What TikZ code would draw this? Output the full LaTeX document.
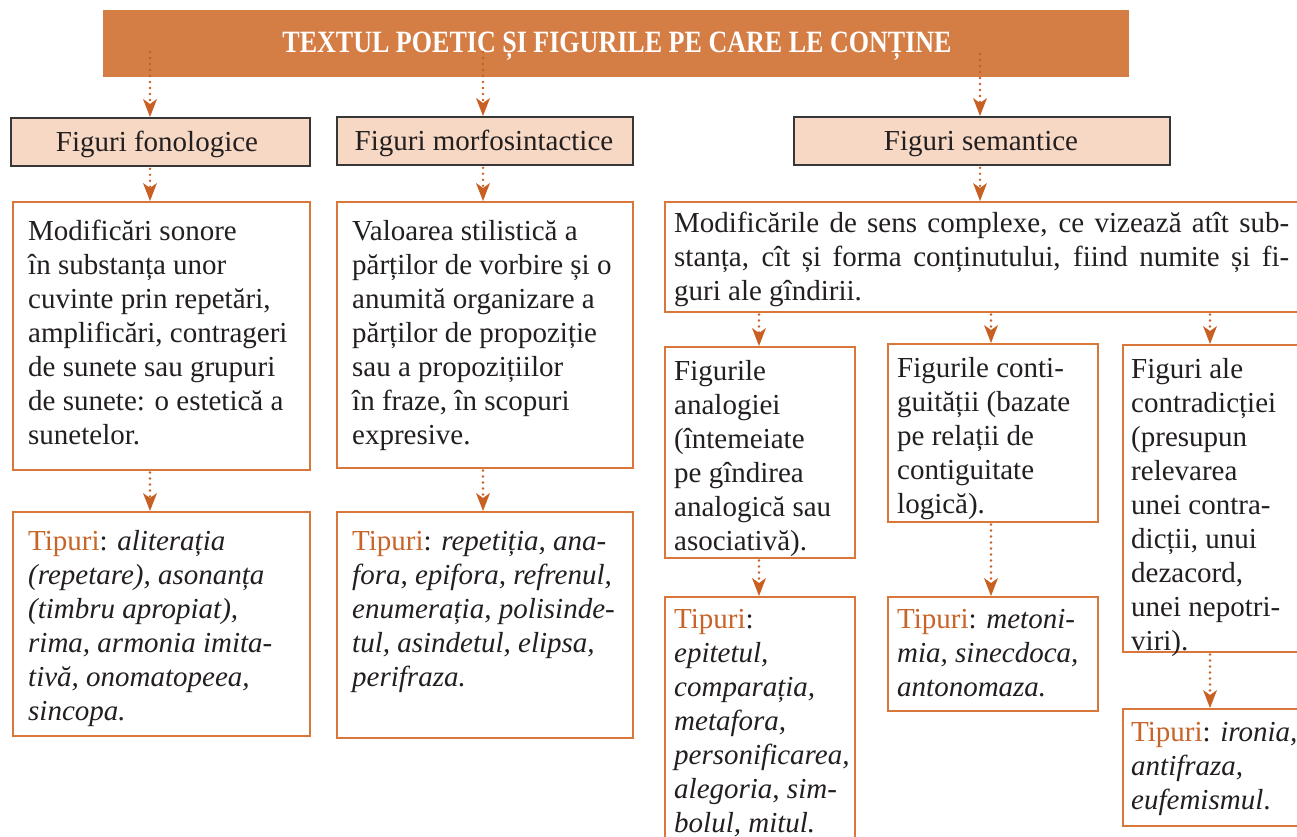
\documentclass[tikz,border=0pt]{standalone}
\usepackage{fontspec}
\usepackage{graphicx}
\setmainfont{Liberation Serif}
\usetikzlibrary{arrows.meta}
\definecolor{ttlfill}{RGB}{212,125,68}
\definecolor{peach}{RGB}{246,216,196}
\definecolor{lvlborder}{RGB}{55,55,55}
\definecolor{oborder}{RGB}{217,118,58}
\definecolor{arrcol}{RGB}{200,95,35}
\definecolor{tipcol}{RGB}{200,100,40}
\definecolor{ink}{RGB}{35,31,32}
\newcommand{\tip}{{\color{tipcol}Tipuri}:}
\newcommand{\bodytext}[1]{\parbox[t]{420pt}{\raggedright\fontsize{29}{34}\selectfont\leavevmode #1}}
\begin{document}
\begin{tikzpicture}[x=1pt,y=-1pt,
  ttl/.style={fill=ttlfill,draw=none,inner sep=0pt},
  lvl/.style={fill=peach,draw=lvlborder,line width=1.8pt,inner sep=0pt,text=ink,font=\fontsize{29}{34}\selectfont},
  obox/.style={draw=oborder,line width=1.5pt,fill=white,inner sep=0pt},
  txt/.style={inner sep=0pt,text=ink,anchor=base west},
  arr/.style={draw=arrcol,line width=2.6pt,line cap=round,dash pattern=on 0pt off 6pt,
    -{Stealth[length=18pt,width=14pt,inset=5pt,line cap=butt,line width=0pt,fill=arrcol]}, shorten <=2pt}
]
\clip (0,0) rectangle (1297,837);
\fill[white] (0,0) rectangle (1297,837);

% x positions of connectors
\coordinate (xa) at (150,0);
\coordinate (xb) at (483,0);
\coordinate (xc) at (980,0);
\coordinate (xd) at (759,0);
\coordinate (xe) at (991,0);
\coordinate (xf) at (1210,0);

% title
\node[ttl,anchor=north west,minimum width=1026pt,minimum height=67pt] (title) at (103,10) {};
\node[inner sep=0pt,text=white] (titletext) at (617,46)
  {\scalebox{0.84}[1]{\bfseries\fontsize{31}{31}\selectfont TEXTUL POETIC ȘI FIGURILE PE CARE LE CONȚINE}};

% level 1
\node[lvl,anchor=north west,minimum width=299pt,minimum height=48pt] (L1a) at (10,117) {};
\node[lvl,anchor=north west,minimum width=296pt,minimum height=48pt] (L1b) at (336,116) {};
\node[lvl,anchor=north west,minimum width=376pt,minimum height=48pt] (L1c) at (793,116) {};
\node[inner sep=0pt,text=ink,font=\fontsize{29}{34}\selectfont,anchor=base] (L1at) at (157,152) {Figuri fonologice};
\node[inner sep=0pt,text=ink,font=\fontsize{29}{34}\selectfont,anchor=base] (L1bt) at (484,151) {Figuri morfosintactice};
\node[inner sep=0pt,text=ink,font=\fontsize{29}{34}\selectfont,anchor=base] (L1ct) at (981,151) {Figuri semantice};

% level 2 boxes
\node[obox,anchor=north west,minimum width=297pt,minimum height=268pt] (A) at (12,201) {};
\node[obox,anchor=north west,minimum width=296pt,minimum height=266pt] (B) at (336,201) {};
\node[obox,anchor=north west,minimum width=700pt,minimum height=110pt] (C) at (664,201) {};

\node[txt] (At) at (28,240) {\bodytext{Modificări sonore\\ în substanța unor\\ cuvinte prin repetări,\\ amplificări, contrageri\\ de sunete sau grupuri\\ de sunete: o estetică a\\ sunetelor.}};
\node[txt] (Bt) at (352,240) {\bodytext{Valoarea stilistică a\\ părților de vorbire și o\\ anumită organizare a\\ părților de propoziție\\ sau a propozițiilor\\ în fraze, în scopuri\\ expresive.}};
\node[txt] (Ct) at (674,232) {\bodytext{\makebox[615pt][s]{Modificările de sens complexe, ce vizează atît sub-}\\ \makebox[615pt][s]{stanța, cît și forma conținutului, fiind numite și fi-}\\ guri ale gîndirii.}};

% Tipuri under A and B
\node[obox,anchor=north west,minimum width=297pt,minimum height=224pt] (TA) at (12,511) {};
\node[obox,anchor=north west,minimum width=296pt,minimum height=226pt] (TB) at (336,511) {};
\node[txt] (TAt) at (28,550) {\bodytext{\tip{} \textit{aliterația}\\ \textit{(repetare), asonanța}\\ \textit{(timbru apropiat),}\\ \textit{rima, armonia imita-}\\ \textit{tivă, onomatopeea,}\\ \textit{sincopa.}}};
\node[txt] (TBt) at (352,550) {\bodytext{\tip{} \textit{repetiția, ana-}\\ \textit{fora, epifora, refrenul,}\\ \textit{enumerația, polisinde-}\\ \textit{tul, asindetul, elipsa,}\\ \textit{perifraza.}}};

% level 3 boxes
\node[obox,anchor=north west,minimum width=190pt,minimum height=211pt] (D) at (664,346) {};
\node[obox,anchor=north west,minimum width=210pt,minimum height=178pt] (E) at (887,343) {};
\node[obox,anchor=north west,minimum width=200pt,minimum height=307pt] (F) at (1122,344) {};
\node[txt] (Dt) at (674,380) {\bodytext{Figurile\\ analogiei\\ (întemeiate\\ pe gîndirea\\ analogică sau\\ asociativă).}};
\node[txt] (Et) at (897,377) {\bodytext{Figurile conti-\\ guității (bazate\\ pe relații de\\ contiguitate\\ logică).}};
\node[txt] (Ft) at (1131,378) {\bodytext{Figuri ale\\ contradicției\\ (presupun\\ relevarea\\ unei contra-\\ dicții, unui\\ dezacord,\\ unei nepotri-\\ viri).}};

% Tipuri under D, E, F
\node[obox,anchor=north west,minimum width=190pt,minimum height=300pt] (TD) at (664,596) {};
\node[obox,anchor=north west,minimum width=210pt,minimum height=114pt] (TE) at (887,596) {};
\node[obox,anchor=north west,minimum width=200pt,minimum height=117pt] (TF) at (1122,708) {};
\node[txt] (TDt) at (674,628) {\bodytext{\tip\\ \textit{epitetul,}\\ \textit{comparația,}\\ \textit{metafora,}\\ \textit{personificarea,}\\ \textit{alegoria, sim-}\\ \textit{bolul, mitul.}}};
\node[txt] (TEt) at (897,628) {\bodytext{\tip{} \textit{metoni-}\\ \textit{mia, sinecdoca,}\\ \textit{antonomaza.}}};
\node[txt] (TFt) at (1131,741) {\bodytext{\tip{} \textit{ironia,}\\ \textit{antifraza,}\\ \textit{eufemismul}.}};

% connectors
\draw[arr] ([yshift=-40pt]title.north -| xa) -- (L1a.north -| xa);
\draw[arr] ([yshift=-40pt]title.north -| xb) -- (L1b.north -| xb);
\draw[arr] ([yshift=-42pt]title.north -| xc) -- (L1c.north -| xc);
\draw[arr] (L1a.south -| xa) -- (A.north -| xa);
\draw[arr] (L1b.south -| xb) -- (B.north -| xb);
\draw[arr] (L1c.south -| xc) -- (C.north -| xc);
\draw[arr] (A.south -| xa) -- (TA.north -| xa);
\draw[arr] (B.south -| xb) -- (TB.north -| xb);
\draw[arr] (C.south -| xd) -- (D.north -| xd);
\draw[arr] (C.south -| xe) -- (E.north -| xe);
\draw[arr] (C.south -| xf) -- (F.north -| xf);
\draw[arr] (D.south -| xd) -- (TD.north -| xd);
\draw[arr] (E.south -| xe) -- (TE.north -| xe);
\draw[arr] (F.south -| xf) -- (TF.north -| xf);
\end{tikzpicture}
\end{document}
